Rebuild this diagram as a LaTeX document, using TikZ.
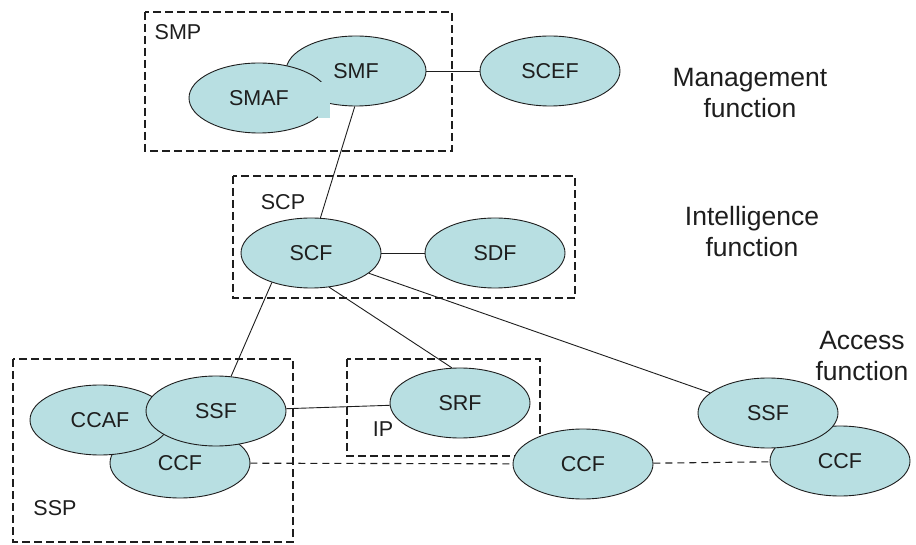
\documentclass[tikz,border=0pt]{standalone}
\usepackage{fontspec}
\setmainfont{Liberation Sans}
\usetikzlibrary{shapes.geometric}
\definecolor{fnfill}{RGB}{184,223,226}
\definecolor{fnline}{RGB}{30,30,30}
\begin{document}
\begin{tikzpicture}[x=1pt, y=-1pt,
    fn/.style={draw=fnline, fill=fnfill, ellipse, line width=0.9pt,
        minimum width=140pt, minimum height=70pt, inner sep=0pt,
        text=fnline, font=\fontsize{21.5}{24}\selectfont},
    grp/.style={draw=fnline, dash pattern=on 8pt off 4pt, line width=1.2pt},
    grplabel/.style={inner sep=0pt, text=fnline, font=\fontsize{21.5}{24}\selectfont},
    layer/.style={inner sep=0pt, align=center, text=fnline, font=\fontsize{26.5}{31}\selectfont},
    link/.style={draw=fnline, line width=0.9pt},
    dlink/.style={link, line width=1.1pt, dash pattern=on 7pt off 5pt}]
\useasboundingbox (0,0) rectangle (916,545);

% physical entities
\draw[grp] (145,12) rectangle (452,151);
\draw[grp] (233,176) rectangle (575,298);
\draw[grp] (13,359) rectangle (293,542);
\draw[grp] (347,359) rectangle (540,456);
\node[grplabel] (smp) at (178,32) {SMP};
\node[grplabel] (scp) at (283,202) {SCP};
\node[grplabel] (ssp) at (55,508) {SSP};
\node[grplabel] (ip) at (383,429) {IP};

% management
\node[fn] (SMF) at (356,71) {SMF};
\node[fn] (SMAF) at (259,98) {SMAF};
\fill[fnfill] (318,82) rectangle (330,118);
\node[fn] (SCEF) at (550,71) {SCEF};

% intelligence
\node[fn] (SCF) at (311,253) {SCF};
\node[fn] (SDF) at (495,253) {SDF};

% access
\node[fn] (CCFa) at (180,463) {CCF};
\node[fn] (CCAF) at (100,420) {CCAF};
\node[fn] (SSFa) at (216,411) {SSF};
\node[fn] (SRF) at (460,403) {SRF};
\node[fn] (CCFb) at (583,464) {CCF};
\node[fn] (CCFc) at (840,461) {CCF};
\node[fn] (SSFb) at (768,413) {SSF};

\node[layer] (mgmt) at (750,93) {Management\\function};
\node[layer] (intel) at (752,232) {Intelligence\\function};
\node[layer] (acc) at (862,356) {Access\\function};

\draw[link] (SMF) -- (SCEF);
\draw[link] (SMF.268) -- (SCF.75);
\draw[link] (SCF) -- (SDF);
\draw[link] (SCF.217) -- (SSFa);
\draw[link] (SCF.298) -- (SRF.103);
\draw[link] (SCF) -- (SSFb);
\draw[link] (SSFa) -- (SRF);
\draw[dlink] (CCFa) -- (CCFb);
\draw[dlink] (CCFb) -- (CCFc);
\end{tikzpicture}
\end{document}
